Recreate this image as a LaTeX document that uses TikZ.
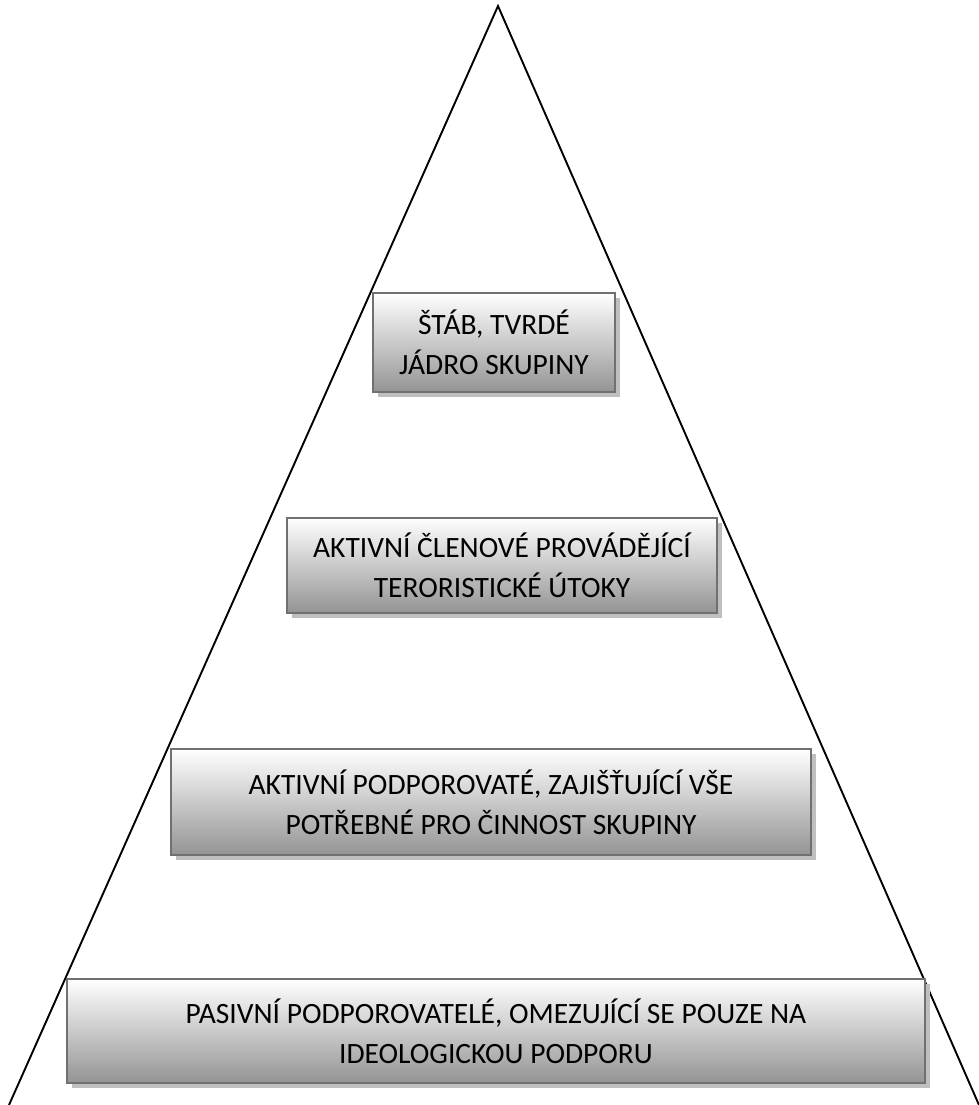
\documentclass[tikz,border=0pt]{standalone}
\usepackage{fontspec}
\setmainfont{Carlito}
\usepackage{tikz}
\usetikzlibrary{shadows,positioning}
\tikzset{
  basic/.style = {draw=black!56, line width=2pt, rectangle, align=center,
                  top color=white, bottom color=black!42,
                  drop shadow={shadow xshift=5pt, shadow yshift=-5pt,
                               fill=black!25, opacity=1},
                  font=\fontsize{29.5}{40}\selectfont},
  tier/.style  = {basic, inner sep=0pt},
  edge/.style  = {line width=1.9pt, black}
}

\begin{document}
\begin{tikzpicture}[x=1pt, y=-1pt]
\useasboundingbox (0,0) rectangle (978,1105);

% the pyramid, open at the bottom
\coordinate (apex) at (498,6);
\coordinate (left) at (9,1105);
\coordinate (right) at (979,1105);
\draw[edge] (left) -- (apex) -- (right);

% the four levels, top to bottom
\node[tier, minimum width=242pt, minimum height=99pt] (l1) at (494,342.5)
  {ŠTÁB, TVRDÉ\\JÁDRO SKUPINY};
\node[tier, minimum width=430pt, minimum height=95pt] (l2) at (502,565)
  {AKTIVNÍ ČLENOVÉ PROVÁDĚJÍCÍ\\TERORISTICKÉ ÚTOKY};
\node[tier, minimum width=640pt, minimum height=106pt] (l3) at (491,802)
  {AKTIVNÍ PODPOROVATÉ, ZAJIŠŤUJÍCÍ VŠE\\POTŘEBNÉ PRO ČINNOST SKUPINY};
\node[tier, minimum width=858pt, minimum height=104pt] (l4) at (496,1031)
  {PASIVNÍ PODPOROVATELÉ, OMEZUJÍCÍ SE POUZE NA\\IDEOLOGICKOU PODPORU};

\end{tikzpicture}
\end{document}
